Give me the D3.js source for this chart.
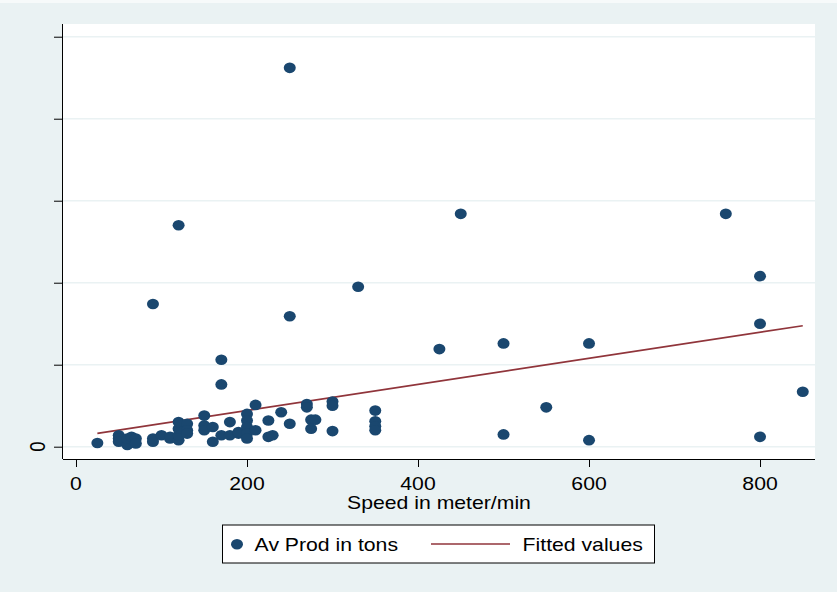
<!DOCTYPE html>
<html>
<head>
<meta charset="utf-8">
<script src="https://cdn.jsdelivr.net/npm/d3@7"></script>
<style>
  body { margin: 0; background: #eaf2f3; }
  text { font-family: "Liberation Sans", Arial, sans-serif; fill: #000; }
</style>
</head>
<body>
<div id="d3-container"></div>
<script>
// speed (meter/min) and average production
const speed = [25, 50, 50, 50, 60, 60, 65, 70, 70, 90, 90, 90, 100, 110, 110,
  120, 120, 120, 120, 120, 130, 130, 130, 150, 150, 150, 160, 160, 170, 170, 170,
  180, 180, 190, 190, 200, 200, 200, 200, 200, 210, 210, 225, 225, 230, 240,
  250, 250, 250, 270, 270, 275, 280, 275, 300, 300, 300, 330, 350, 350, 350, 350,
  425, 450, 500, 500, 550, 600, 600, 760, 800, 800, 800, 850]
const prod = [4.5, 14, 10, 6, 2, 10, 12, 10, 4, 6, 10, 174, 14, 10, 12,
  8, 14, 22, 30, 270, 28, 20, 16, 38, 26, 20, 24, 6, 14, 76, 106,
  14, 30, 16, 18, 40, 32, 24, 16, 10, 51, 20, 32, 12, 14, 42,
  28, 159, 462, 52, 48, 33, 33, 22, 55, 50, 19, 195, 44, 31, 25, 20,
  119, 284, 126, 15, 48, 126, 8, 284, 208, 150, 12, 67]

// fitted values line (endpoints)
const fitSpeed = [25, 850]
const fitProd = [16.3, 147.6]

const xTicks = [0, 200, 400, 600, 800]
const yTicks = [0, 100, 200, 300, 400, 500]
const yTickLabels = ['0', '', '', '', '', '']

const width = 837
const height = 592
const plot = { left: 63, right: 815, top: 24, bottom: 459 }
const navy = '#1a476f'
const maroon = '#90353b'
const stretch = 1.14  // the picture is a bit wider than tall

const svg = d3.select('#d3-container')
  .append('svg')
  .attr('width', width)
  .attr('height', height)
  .attr('viewBox', [0, 0, width, height])

svg.append('rect').attr('width', width).attr('height', height).attr('fill', '#eaf2f3')
svg.append('rect').attr('width', width).attr('height', 3).attr('fill', '#f7fafa')

const x = d3.scaleLinear()
  .domain([-15.2, 864.3])
  .range([plot.left, plot.right])

const y = d3.scaleLinear()
  .domain([-15, 515.5])
  .range([plot.bottom, plot.top])

svg.append('rect')
  .attr('x', plot.left).attr('y', plot.top)
  .attr('width', plot.right - plot.left)
  .attr('height', plot.bottom - plot.top)
  .attr('fill', '#fff')

// gridlines
svg.append('g')
  .selectAll('line')
  .data(yTicks)
  .join('line')
    .attr('x1', plot.left).attr('x2', plot.right)
    .attr('y1', d => y(d)).attr('y2', d => y(d))
    .attr('stroke', '#eaf2f3')
    .attr('stroke-width', 1.6)

function label(g, px, py, str, rot) {
  g.append('g')
    .attr('transform', `translate(${px},${py}) rotate(${rot || 0}) scale(${rot ? 1 : stretch},${rot ? stretch : 1})`)
    .append('text')
    .attr('text-anchor', 'middle')
    .attr('font-size', 18.6)
    .text(str)
}

// x axis
function xAxis(g) {
  g.attr('transform', `translate(0, ${plot.bottom})`)
    .call(d3.axisBottom(x).tickValues(xTicks).tickSize(8).tickFormat(''))
  g.select('.domain').attr('d', `M${plot.left},0.5H${plot.right}`).attr('stroke', '#000')
  g.selectAll('.tick line').attr('stroke', '#000')
}
// y axis
function yAxis(g) {
  g.attr('transform', `translate(${plot.left}, 0)`)
    .call(d3.axisLeft(y).tickValues(yTicks).tickSize(9).tickFormat(''))
  g.select('.domain').attr('d', `M-0.5,${plot.top}V${plot.bottom}`).attr('stroke', '#000')
  g.selectAll('.tick line').attr('stroke', '#000')
}
svg.append('g').call(xAxis)
svg.append('g').call(yAxis)

const labels = svg.append('g')
xTicks.forEach(t => label(labels, x(t), 490, String(t)))
yTicks.forEach((t, i) => { if (yTickLabels[i]) label(labels, 45, y(t), yTickLabels[i], -90) })
label(labels, (plot.left + plot.right) / 2, 509, 'Speed in meter/min')

// fitted line
svg.append('path')
  .datum(d3.zip(fitSpeed, fitProd))
  .attr('fill', 'none')
  .attr('stroke', maroon)
  .attr('stroke-width', 1.6)
  .attr('d', d3.line().x(d => x(d[0])).y(d => y(d[1])))

// points
svg.append('g')
  .attr('fill', navy)
  .selectAll('ellipse')
  .data(d3.zip(speed, prod))
  .join('ellipse')
    .attr('cx', d => x(d[0]))
    .attr('cy', d => y(d[1]))
    .attr('rx', 6)
    .attr('ry', 5.3)

// legend
const legend = svg.append('g')
legend.append('rect')
  .attr('x', 222.5).attr('y', 525)
  .attr('width', 432).attr('height', 38)
  .attr('fill', '#fff')
  .attr('stroke', '#000')
  .attr('stroke-width', 1)
legend.append('ellipse')
  .attr('cx', 237).attr('cy', 544.3)
  .attr('rx', 6).attr('ry', 5.3)
  .attr('fill', navy)
legend.append('line')
  .attr('x1', 431).attr('x2', 510)
  .attr('y1', 544).attr('y2', 544)
  .attr('stroke', maroon)
  .attr('stroke-width', 1.6)
label(legend, 326.3, 551, 'Av Prod in tons')
label(legend, 582.7, 551, 'Fitted values')
</script>
</body>
</html>
